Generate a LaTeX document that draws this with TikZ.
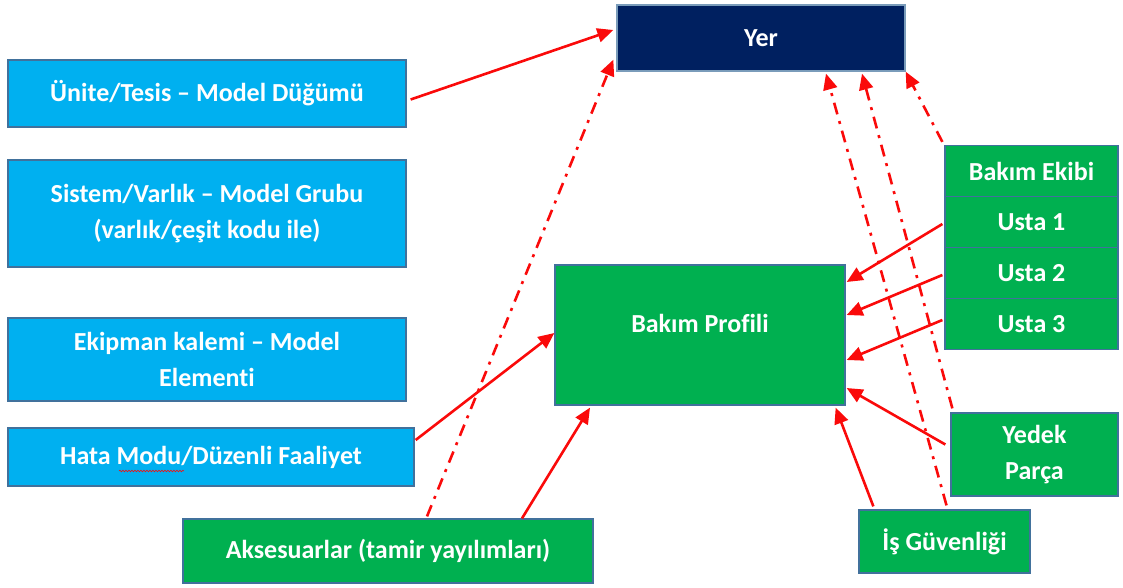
\documentclass[tikz,border=0pt]{standalone}
\usepackage{fontspec}
\setmainfont{Carlito}[Ligatures=NoCommon]
\usetikzlibrary{arrows.meta,calc,decorations.pathmorphing}
\definecolor{lblue}{RGB}{0,176,240}
\definecolor{ggreen}{RGB}{0,176,80}
\definecolor{navy}{RGB}{0,32,96}
\definecolor{bord}{RGB}{65,113,156}
\definecolor{arrred}{RGB}{250,10,10}
\begin{document}
\begin{tikzpicture}[x=1pt,y=-1pt,
  box/.style={draw=bord, line width=1.3pt, text=white, font=\bfseries\fontsize{26}{36}\selectfont, align=center, inner sep=0pt},
  bluebox/.style={box, fill=lblue},
  greenbox/.style={box, fill=ggreen},
  navybox/.style={box, fill=navy, draw=bord!70!white},
  arr/.style={draw=arrred, line width=2.6pt, -{Triangle[length=16pt,width=14pt]}},
  dd/.style={arr, dash pattern=on 12pt off 7pt on 3pt off 7pt}
]
\useasboundingbox (0,0) rectangle (1123,587);

% nodes
\node[navybox, minimum width=288pt, minimum height=66pt] (yer) at (761,38) {Yer};
\node[bluebox, minimum width=398pt, minimum height=67pt] (unite) at (207,93.5) {Ünite/Tesis – Model Düğümü};
\node[bluebox, minimum width=398pt, minimum height=107pt] (sistem) at (207,213.5) {Sistem/Varlık – Model Grubu\\(varlık/çeşit kodu ile)};
\node[bluebox, minimum width=398pt, minimum height=83pt] (ekip) at (207,359.5) {Ekipman kalemi – Model\\Elementi};
\node[bluebox, minimum width=406pt, minimum height=58pt] (hata) at (211,457) {Hata Modu/Düzenli Faaliyet};
\node[greenbox, minimum width=410pt, minimum height=64pt] (akses) at (388,551) {Aksesuarlar (tamir yayılımları)};
\node[greenbox, minimum width=290pt, minimum height=140pt] (prof) at (700,335) {\raisebox{24pt}{Bakım Profili}};
\node[greenbox, minimum width=173pt, minimum height=51pt] (ekibi) at (1031.5,171) {Bakım Ekibi};
\node[greenbox, minimum width=173pt, minimum height=51pt] (usta1) at (1031.5,222) {Usta 1};
\node[greenbox, minimum width=173pt, minimum height=51pt] (usta2) at (1031.5,273) {Usta 2};
\node[greenbox, minimum width=173pt, minimum height=51pt] (usta3) at (1031.5,324) {Usta 3};
\node[greenbox, minimum width=167pt, minimum height=83pt] (yedek) at (1034.5,454.5) {Yedek\\Parça};
\node[greenbox, minimum width=171pt, minimum height=63pt] (isg) at (944.5,541.5) {İş Güvenliği};

% spell-check squiggle under "Modu"
\draw[arrred, line width=0.6pt, decorate, decoration={snake, amplitude=0.8pt, segment length=3pt}]
  ($(hata.center)+(-92,14)$) -- ($(hata.center)+(-27,14)$);

% solid connectors
\draw[arr] ($(unite.east)+(4,6)$) -- ($(yer.west)+(-3,-8)$);
\draw[arr] ($(hata.east)+(1,-17)$) -- ($(prof.west)+(0,-2)$);
\draw[arr] ($(akses.north)+(134,0)$) -- ($(prof.south)+(-110,2)$);
\draw[arr] ($(usta1.west)+(-2,2)$) -- ($(prof.east)+(1,-53)$);
\draw[arr] ($(usta2.west)+(-2,2)$) -- ($(prof.east)+(1,-20)$);
\draw[arr] ($(usta3.west)+(-2,-4)$) -- ($(prof.east)+(1,25)$);
\draw[arr] ($(yedek.west)+(-5,-10)$) -- ($(prof.east)+(1,53)$);
\draw[arr] ($(isg.north west)+(15,-3)$) -- ($(prof.south east)+(-10,2)$);

% dash-dot connectors
\draw[dd] ($(akses.north)+(39,-2)$) -- ($(yer.south west)+(-3,-12)$);
\draw[dd] ($(isg.north)+(2,-4)$) -- ($(yer.south)+(65,2)$);
\draw[dd] ($(yedek.north west)+(2,-4)$) -- ($(yer.south)+(101,2)$);
\draw[dd] ($(ekibi.north west)+(-2,-3)$) -- ($(yer.south east)+(0,0)$);
\end{tikzpicture}
\end{document}
